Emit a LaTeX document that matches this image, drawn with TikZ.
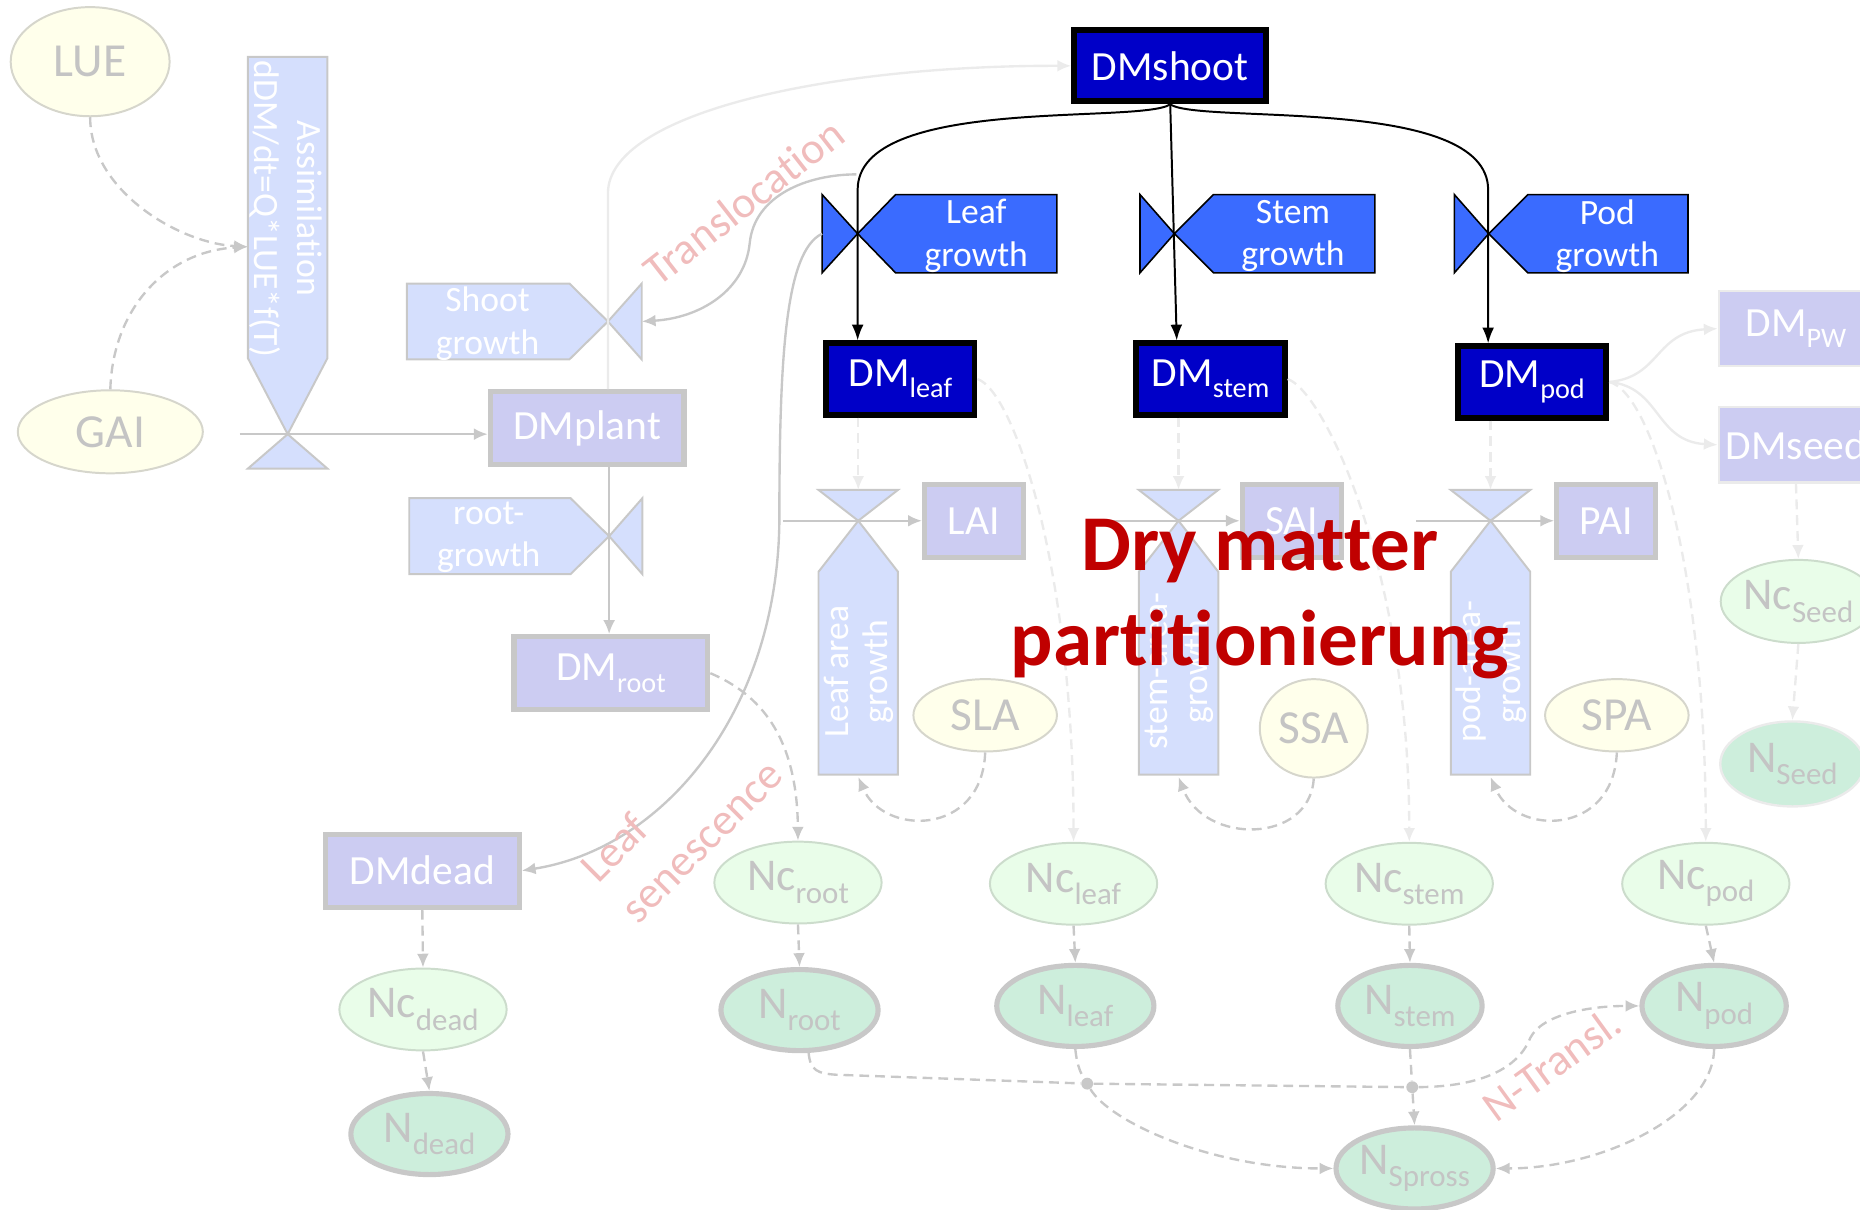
\documentclass[tikz,border=0pt]{standalone}
\usepackage{fontspec}
\setmainfont{Carlito}[Ligatures={NoCommon}]
\usepackage{graphicx}
\usetikzlibrary{arrows.meta,shapes.geometric}
\definecolor{lav}{HTML}{CCCCF2}
\definecolor{lgray}{HTML}{C8C8C8}
\definecolor{vlgray}{HTML}{EBEBEB}
\definecolor{flowblue}{HTML}{D5DFFD}
\definecolor{bblue}{HTML}{3A6BFF}
\definecolor{dblue}{HTML}{0000C8}
\definecolor{ylw}{HTML}{FFFFEB}
\definecolor{yborder}{HTML}{D6D6CC}
\definecolor{ncg}{HTML}{E9FDE9}
\definecolor{ncborder}{HTML}{CCDCCC}
\definecolor{ng}{HTML}{CDEEDC}
\definecolor{txtg}{HTML}{C4C4C4}
\definecolor{pinkl}{HTML}{F0BCBC}
\definecolor{titlered}{HTML}{C00000}
\newcommand\fsz[2]{\fontsize{#1}{#2}\selectfont}
\newcommand\sbx[1]{\raisebox{-0.27em}{\scalebox{0.68}{#1}}}
\begin{document}
\begin{tikzpicture}[x=0.6pt,y=-0.6pt,
  lbox/.style={rectangle, draw=lgray, line width=2.6pt, fill=lav, text=white, font=\fsz{21}{25}, inner sep=0pt, minimum width=98pt, minimum height=37pt},
  sbox/.style={lbox, minimum width=50pt},
  dbox/.style={rectangle, draw=black, line width=3pt, fill=dblue, text=white, font=\fsz{21}{25}, inner sep=0pt, minimum width=75pt, minimum height=36pt},
  pbox/.style={rectangle, draw=vlgray, line width=1.2pt, fill=lav, text=white, font=\fsz{21}{25}, inner sep=0pt, minimum width=78pt, minimum height=38pt},
  yell/.style={ellipse, draw=yborder, line width=1pt, fill=ylw, text=txtg, font=\fsz{24}{28}, inner sep=0pt},
  ncell/.style={ellipse, draw=ncborder, line width=1pt, fill=ncg, text=txtg, font=\fsz{23}{27}, inner sep=0pt, minimum width=84.6pt, minimum height=41.4pt},
  nell/.style={ellipse, draw=lgray, line width=2.6pt, fill=ng, text=txtg, font=\fsz{23}{27}, inner sep=0pt, minimum width=79.5pt, minimum height=41pt},
  flowshape/.style={draw=lgray, line width=1pt, fill=flowblue},
  bshape/.style={draw=black, line width=0.8pt, fill=bblue},
  ftxt/.style={text=white, font=\fsz{18}{21.5}, align=center, inner sep=0pt},
  rtxt/.style={text=white, font=\fsz{18}{20}, align=center, inner sep=0pt, rotate=90},
  gcon/.style={draw=lgray, line width=1.2pt, -{Latex[length=7pt,width=6pt]}},
  gdash/.style={gcon, dash pattern=on 5pt off 3pt},
  vlcon/.style={draw=vlgray, line width=1.2pt, -{Latex[length=7pt,width=6pt]}},
  vldash/.style={vlcon, dash pattern=on 5pt off 3pt},
  bcon/.style={draw=black, line width=1pt, -{Latex[length=8pt,width=6pt]}},
  plabel/.style={text=pinkl, font=\fsz{22.5}{28.8}, inner sep=0pt},
  ttl/.style={text=titlered, font=\bfseries\fsz{40}{48.3}, align=center, inner sep=0pt},
  dotn/.style={circle, fill=lgray, inner sep=0pt, minimum size=6pt}
]
\useasboundingbox (0,0) rectangle (1568,1020);
\clip (0,0) rectangle (1568,1020);

% ---------- flow shapes ----------
\draw[flowshape] (209,48) -- (276,48) -- (276,302) -- (242.5,366) -- (209,302) -- cycle;
\draw[flowshape] (242.5,366) -- (276,395) -- (209,395) -- cycle;
\draw[flowshape] (343,239) -- (480,239) -- (512.5,271) -- (480,303) -- (343,303) -- cycle;
\draw[flowshape] (512.5,271) -- (541,239) -- (541,303) -- cycle;
\draw[flowshape] (345,420) -- (481,420) -- (513.5,452) -- (481,484) -- (345,484) -- cycle;
\draw[flowshape] (513.5,452) -- (541.5,420) -- (541.5,484) -- cycle;

\draw[bshape] (693,164) -- (723,197) -- (693,230) -- cycle;
\draw[bshape] (723,197) -- (755,164) -- (891,164) -- (891,230) -- (755,230) -- cycle;
\draw[bshape] (961,164) -- (990,197) -- (961,230) -- cycle;
\draw[bshape] (990,197) -- (1023,164) -- (1159,164) -- (1159,230) -- (1023,230) -- cycle;
\draw[bshape] (1226,164) -- (1255,197) -- (1226,230) -- cycle;
\draw[bshape] (1255,197) -- (1288,164) -- (1423,164) -- (1423,230) -- (1288,230) -- cycle;

\draw[flowshape] (690,413) -- (757,413) -- (723.5,439) -- cycle;
\draw[flowshape] (723.5,439) -- (757,482) -- (757,653) -- (690,653) -- (690,482) -- cycle;
\draw[flowshape] (960,413) -- (1027,413) -- (993.5,439) -- cycle;
\draw[flowshape] (993.5,439) -- (1027,482) -- (1027,653) -- (960,653) -- (960,482) -- cycle;
\draw[flowshape] (1223,413) -- (1290,413) -- (1256.5,439) -- cycle;
\draw[flowshape] (1256.5,439) -- (1290,482) -- (1290,653) -- (1223,653) -- (1223,482) -- cycle;

% ---------- flow texts ----------
\node[ftxt, rotate=-90] (asmtxt) at (241,176) {Assimilation\\dDM/dt=Q*LUE*f(T)};
\node[ftxt] (tshoot) at (411,273) {Shoot\\growth};
\node[ftxt] (troot) at (412,453) {root-\\growth};
\node[ftxt] (tleafg) at (823,199) {Leaf\\growth};
\node[ftxt] (tstemg) at (1090,199) {Stem\\growth};
\node[ftxt] (tpodg) at (1355,199) {Pod\\growth};
\node[rtxt] (tla) at (724,566) {Leaf area\\growth};
\node[rtxt] (tsa) at (994,566) {stem-area-\\growth};
\node[rtxt] (tpa) at (1257,566) {pod-area-\\growth};

% ---------- coordinates ----------
\coordinate (asrc) at (202,366);
\coordinate (vasm) at (242.5,366);
\coordinate (asmin) at (209,208);
\coordinate (vshoot) at (512.5,271);
\coordinate (vroot) at (513.5,452);
\coordinate (tstart) at (722,147);
\coordinate (tend) at (541,271);
\coordinate (lsstart) at (693,197);
\coordinate (vleaf) at (723,197);
\coordinate (vstem) at (992,197);
\coordinate (vpod) at (1254.5,197);
\coordinate (laisrc) at (660,439);
\coordinate (saisrc) at (930,439);
\coordinate (paisrc) at (1194,439);
\coordinate (laitop) at (723.5,413);
\coordinate (saitop) at (993.5,413);
\coordinate (paitop) at (1256.5,413);
\coordinate (laibot) at (723.5,655);
\coordinate (saibot) at (993.5,655);
\coordinate (paibot) at (1256.5,655);

% ---------- boxes ----------
\node[dbox, minimum width=97.2pt] (DMshoot) at (986.5,55.5) {DMshoot};
\node[dbox] (DMleaf) at (759,319.5) {DM\sbx{leaf}};
\node[dbox] (DMstem) at (1020.5,319.5) {DM\sbx{stem}};
\node[dbox] (DMpod) at (1291.5,322) {DM\sbx{pod}};
\node[lbox] (DMplant) at (495,361) {DMplant};
\node[lbox] (DMroot) at (515,567.5) {DM\sbx{root}};
\node[lbox] (DMdead) at (356,734) {DMdead};
\node[sbox] (LAI) at (821,439) {LAI};
\node[sbox] (SAI) at (1089,439) {SAI};
\node[sbox] (PAI) at (1354,439) {PAI};
\node[pbox] (DMPW) at (1514,277) {DM\sbx{PW}};
\node[pbox] (DMseed) at (1514,375) {DMseed};

% ---------- ellipses ----------
\node[yell, minimum width=80.4pt, minimum height=55.2pt] (LUE) at (76,52) {LUE};
\node[yell, minimum width=93.6pt, minimum height=42pt] (GAI) at (93,364) {GAI};
\node[yell, minimum width=72.6pt, minimum height=36.6pt] (SLA) at (830.5,603) {SLA};
\node[yell, minimum width=54.6pt, minimum height=49.8pt] (SSA) at (1107.5,614) {SSA};
\node[yell, minimum width=72.6pt, minimum height=36.6pt] (SPA) at (1363,603) {SPA};

\node[ncell] (Ncroot) at (672.7,744) {Nc\sbx{root}};
\node[ncell] (Ncleaf) at (905,745) {Nc\sbx{leaf}};
\node[ncell] (Ncstem) at (1188,745) {Nc\sbx{stem}};
\node[ncell] (Ncpod) at (1438,745) {Nc\sbx{pod}};
\node[ncell] (Ncdead) at (356.6,851) {Nc\sbx{dead}};
\node[ncell, minimum width=74.4pt, minimum height=42pt] (NcSeed) at (1516,507) {Nc\sbx{Seed}};

\node[nell] (Nroot) at (674,851.5) {N\sbx{root}};
\node[nell] (Nleaf) at (906.5,848) {N\sbx{leaf}};
\node[nell, minimum width=73pt] (Nstem) at (1188.6,848) {N\sbx{stem}};
\node[nell, minimum width=73pt] (Npod) at (1445,848) {N\sbx{pod}};
\node[nell] (Ndead) at (362,956) {N\sbx{dead}};
\node[nell] (NSpross) at (1192.5,985) {N\sbx{Spross}};
\node[nell, draw=vlgray, line width=1.2pt, minimum width=73pt, minimum height=43pt] (NSeed) at (1511,644) {N\sbx{Seed}};

\node[dotn] (dot1) at (916.5,913.5) {};
\node[dotn] (dot2) at (1190.5,916.5) {};

% ---------- connectors ----------
\draw[gdash] (LUE.south) .. controls (76,160) and (150,205) .. (asmin);
\draw[gdash] (GAI.north) .. controls (95,260) and (140,212) .. (asmin);
\draw[gcon] (asrc) -- (DMplant.west |- vasm);
\draw[vlcon] (DMplant.north -| vshoot) -- (512.5,163) .. controls (512.5,95) and (700,55) .. (DMshoot.west);
\draw[gcon] (DMplant.south -| vroot) -- (DMroot.north -| vroot);
\draw[gcon] (tstart) .. controls (680,147) and (636,165) .. (632,205) .. controls (628,245) and (590,268) .. (tend);
\draw[gcon] (lsstart) .. controls (662,212) and (657,300) .. (657,440) .. controls (655,600) and (560,715) .. (DMdead.east);

\draw[bcon] (DMshoot.south) .. controls (960,105) and (723,80) .. (723,160) -- (DMleaf.north -| vleaf);
\draw[bcon] (DMshoot.south) -- (DMstem.north -| vstem);
\draw[bcon] (DMshoot.south) .. controls (1012,105) and (1254.5,80) .. (1254.5,160) -- (DMpod.north -| vpod);

\draw[vldash] (DMleaf.south -| laitop) -- (laitop);
\draw[vldash] (DMstem.south -| saitop) -- (saitop);
\draw[vldash] (DMpod.south -| paitop) -- (paitop);

\draw[gcon] (laisrc) -- (LAI.west);
\draw[gcon] (saisrc) -- (SAI.west);
\draw[gcon] (paisrc) -- (PAI.west);

\draw[gdash] (SLA.south) .. controls (828,705) and (745,705) .. (laibot);
\draw[gdash] (SSA.south) .. controls (1104,712) and (1015,712) .. (saibot);
\draw[gdash] (SPA.south) .. controls (1360,705) and (1278,705) .. (paibot);

\draw[gdash] (DMroot.east) .. controls (640,585) and (672,620) .. (Ncroot.north);
\draw[vldash] (DMleaf.east) .. controls (855,330) and (905,480) .. (Ncleaf.north);
\draw[vldash] (DMstem.east) .. controls (1116,330) and (1188,480) .. (Ncstem.north);
\draw[vldash] (DMpod.east) .. controls (1392,330) and (1438,480) .. (Ncpod.north);
\draw[vlcon] (DMpod.east) .. controls (1400,318) and (1395,280) .. (DMPW.west);
\draw[vlcon] (DMpod.east) .. controls (1400,326) and (1395,372) .. (DMseed.west);
\draw[vldash] (DMseed.south) -- (NcSeed.north);
\draw[vldash] (NcSeed.south) -- (NSeed.north);

\draw[gdash] (Ncroot.south) -- (Nroot.north);
\draw[gdash] (Ncleaf.south) -- (Nleaf.north);
\draw[gdash] (Ncstem.south) -- (Nstem.north);
\draw[gdash] (Ncpod.south) -- (Npod.north);
\draw[gdash] (DMdead.south) -- (Ncdead.north);
\draw[gdash] (Ncdead.south) -- (Ndead.north);

\draw[gdash] (Nroot.282) .. controls (683,903) and (690,905) .. (705,906) -- (dot1) -- (dot2) .. controls (1250,916) and (1280,900) .. (1290,875) .. controls (1300,855) and (1340,848) .. (Npod.west);
\draw[gdash] (Nleaf.south) .. controls (908,900) and (912,906) .. (dot1) .. controls (935,945) and (1020,985) .. (NSpross.west);
\draw[gdash] (Nstem.south) -- (dot2) -- (NSpross.north);
\draw[gdash] (Npod.south) .. controls (1444,940) and (1350,985) .. (NSpross.east);

% ---------- labels ----------
\node[plabel, rotate=38] (ltrans) at (627,170) {Translocation};
\node[plabel, rotate=45, align=left] (lsen) at (574,692) {Leaf\\senescence};
\node[plabel, rotate=36] (lntr) at (1308,897) {N-Transl.};
\node[ttl] (title) at (1062,505) {Dry matter\\partitionierung};
\end{tikzpicture}
\end{document}
